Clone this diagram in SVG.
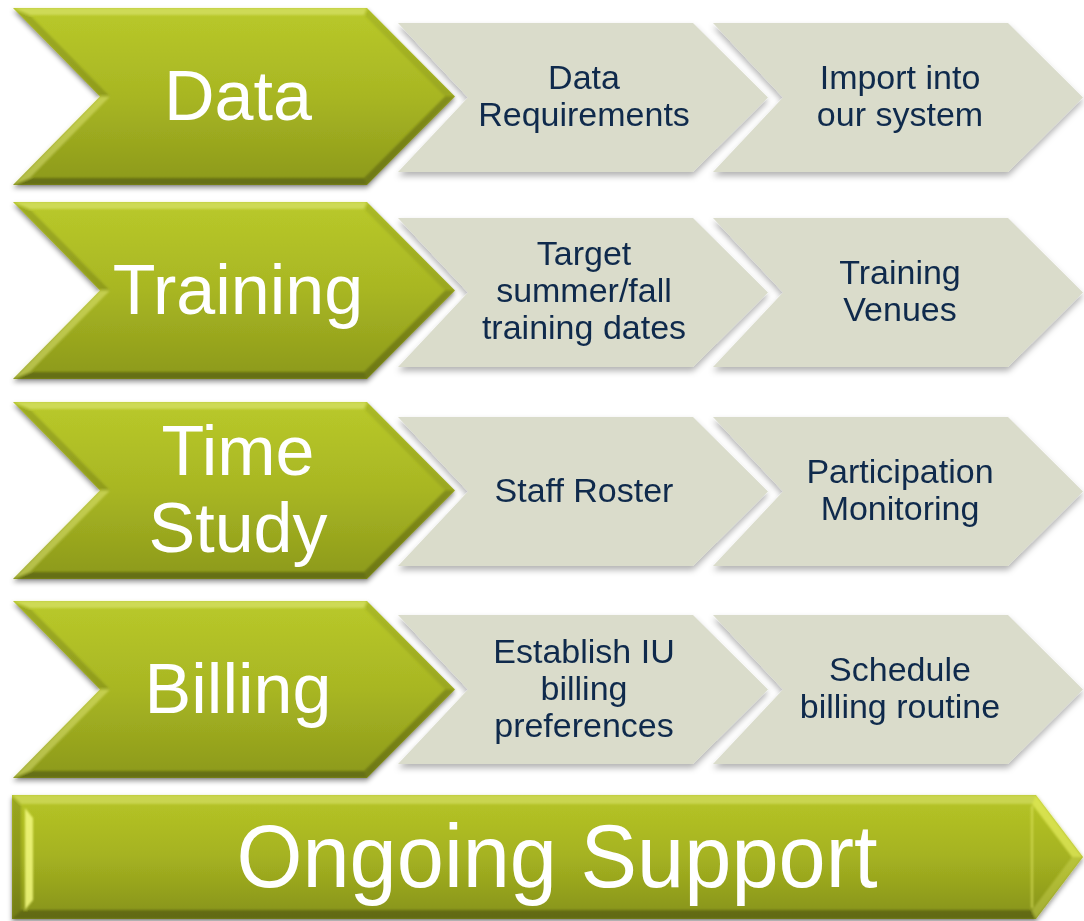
<svg xmlns="http://www.w3.org/2000/svg" xmlns:xlink="http://www.w3.org/1999/xlink" width="1084" height="921" viewBox="0 0 1084 921">
  <style>
    .stage { font-family: "Liberation Sans", Arial, sans-serif; font-size: 70px; fill: #ffffff; text-anchor: middle; }
    .task { font-family: "Liberation Sans", Arial, sans-serif; font-size: 34px; fill: #0f2a4c; text-anchor: middle; }
    .banner { font-family: "Liberation Sans", Arial, sans-serif; font-size: 89px; fill: #ffffff; text-anchor: middle; }
  </style>
  <defs>
    <linearGradient id="greenFill" x1="0" y1="0" x2="0" y2="1">
      <stop offset="0" stop-color="#b9c92a"/>
      <stop offset="0.5" stop-color="#a8b623"/>
      <stop offset="1" stop-color="#8c991b"/>
    </linearGradient>
    <linearGradient id="bannerFill" x1="0" y1="0" x2="0" y2="1">
      <stop offset="0" stop-color="#b6c526"/>
      <stop offset="0.5" stop-color="#a5b221"/>
      <stop offset="1" stop-color="#86921a"/>
    </linearGradient>
    <filter id="shadow" x="-5%" y="-10%" width="110%" height="125%">
      <feDropShadow dx="0" dy="3" stdDeviation="2.5" flood-color="#000" flood-opacity="0.4"/>
    </filter>
    <filter id="softShadow" x="-5%" y="-10%" width="110%" height="125%">
      <feDropShadow dx="0" dy="4" stdDeviation="3" flood-color="#000" flood-opacity="0.3"/>
    </filter>
    <filter id="soften" x="-5%" y="-5%" width="110%" height="110%">
      <feGaussianBlur stdDeviation="1.2"/>
    </filter>

    <!-- Beveled green stage chevron, 442 x 177 -->
    <g id="greenChevron">
      <polygon points="0,0 354,0 442,88.5 354,177 0,177 87,88.5" fill="url(#greenFill)"/>
      <g filter="url(#soften)">
        <polygon points="0,0 354,0 351.1,7 16.8,7" fill="#f2f7a0" opacity="0.38"/>
        <polygon points="354,0 442,88.5 432.1,88.5 351.1,7" fill="#000" opacity="0.08"/>
        <polygon points="442,88.5 354,177 351.1,170 432.1,88.5" fill="#000" opacity="0.22"/>
        <polygon points="354,177 0,177 16.8,170 351.1,170" fill="#000" opacity="0.28"/>
        <polygon points="0,177 87,88.5 96.9,88.5 16.8,170" fill="#f0f590" opacity="0.4"/>
        <polygon points="87,88.5 0,0 16.8,7 96.9,88.5" fill="#000" opacity="0.14"/>
      </g>
    </g>

    <!-- Grey task chevron, 370 x 149 -->
    <polygon id="greyChevron" points="0,0 295,0 370,74.5 295,149 0,149 70,74.5" fill="#dadccb"/>
  </defs>

  <rect width="1084" height="921" fill="#ffffff"/>

  <!-- Row 1: Data -->
  <g id="node-data">
    <use xlink:href="#greenChevron" href="#greenChevron" transform="translate(13,8)" filter="url(#shadow)"/>
    <text class="stage" x="238" y="120">Data</text>
  </g>
  <g id="node-data-requirements">
    <use xlink:href="#greyChevron" href="#greyChevron" transform="translate(398,23)" filter="url(#softShadow)"/>
    <text class="task" x="584" y="89">Data</text>
    <text class="task" x="584" y="126">Requirements</text>
  </g>
  <g id="node-import">
    <use xlink:href="#greyChevron" href="#greyChevron" transform="translate(713,23)" filter="url(#softShadow)"/>
    <text class="task" x="900" y="89">Import into</text>
    <text class="task" x="900" y="126">our system</text>
  </g>

  <!-- Row 2: Training -->
  <g id="node-training">
    <use xlink:href="#greenChevron" href="#greenChevron" transform="translate(13,202)" filter="url(#shadow)"/>
    <text class="stage" x="238" y="314">Training</text>
  </g>
  <g id="node-training-dates">
    <use xlink:href="#greyChevron" href="#greyChevron" transform="translate(398,218)" filter="url(#softShadow)"/>
    <text class="task" x="584" y="265">Target</text>
    <text class="task" x="584" y="302">summer/fall</text>
    <text class="task" x="584" y="339">training dates</text>
  </g>
  <g id="node-training-venues">
    <use xlink:href="#greyChevron" href="#greyChevron" transform="translate(713,218)" filter="url(#softShadow)"/>
    <text class="task" x="900" y="284">Training</text>
    <text class="task" x="900" y="321">Venues</text>
  </g>

  <!-- Row 3: Time Study -->
  <g id="node-time-study">
    <use xlink:href="#greenChevron" href="#greenChevron" transform="translate(13,402)" filter="url(#shadow)"/>
    <text class="stage" x="238" y="475">Time</text>
    <text class="stage" x="238" y="552">Study</text>
  </g>
  <g id="node-staff-roster">
    <use xlink:href="#greyChevron" href="#greyChevron" transform="translate(398,417)" filter="url(#softShadow)"/>
    <text class="task" x="584" y="502">Staff Roster</text>
  </g>
  <g id="node-participation">
    <use xlink:href="#greyChevron" href="#greyChevron" transform="translate(713,417)" filter="url(#softShadow)"/>
    <text class="task" x="900" y="483">Participation</text>
    <text class="task" x="900" y="520">Monitoring</text>
  </g>

  <!-- Row 4: Billing -->
  <g id="node-billing">
    <use xlink:href="#greenChevron" href="#greenChevron" transform="translate(13,601)" filter="url(#shadow)"/>
    <text class="stage" x="238" y="713">Billing</text>
  </g>
  <g id="node-billing-preferences">
    <use xlink:href="#greyChevron" href="#greyChevron" transform="translate(398,615)" filter="url(#softShadow)"/>
    <text class="task" x="584" y="663">Establish IU</text>
    <text class="task" x="584" y="700">billing</text>
    <text class="task" x="584" y="737">preferences</text>
  </g>
  <g id="node-billing-routine">
    <use xlink:href="#greyChevron" href="#greyChevron" transform="translate(713,615)" filter="url(#softShadow)"/>
    <text class="task" x="900" y="681">Schedule</text>
    <text class="task" x="900" y="718">billing routine</text>
  </g>

  <!-- Bottom banner: Ongoing Support -->
  <g id="node-ongoing-support">
    <g filter="url(#shadow)">
      <polygon points="12,795 1036,795 1083,857 1036,919 12,919" fill="url(#bannerFill)"/>
    </g>
    <g filter="url(#soften)">
      <polygon points="12,795 1036,795 1032,804 21,804" fill="#f2f7a0" opacity="0.35"/>
      <polygon points="1036,795 1083,857 1072,857 1032,804" fill="#f0f66a" opacity="0.6"/>
      <polygon points="1083,857 1036,919 1032,910 1072,857" fill="#e8f070" opacity="0.3"/>
      <polygon points="1036,919 12,919 21,910 1032,910" fill="#000" opacity="0.28"/>
      <polygon points="12,919 12,795 21,804 21,910" fill="#000" opacity="0.15"/>
      <polygon points="25,808 33,818 33,900 25,910" fill="#eef57a" opacity="0.9"/>
      <line x1="1032" y1="806" x2="1032" y2="908" stroke="#e4ec6a" stroke-width="2" opacity="0.6"/>
    </g>
    <text class="banner" x="557" y="887" textLength="641" lengthAdjust="spacingAndGlyphs">Ongoing Support</text>
  </g>
</svg>
